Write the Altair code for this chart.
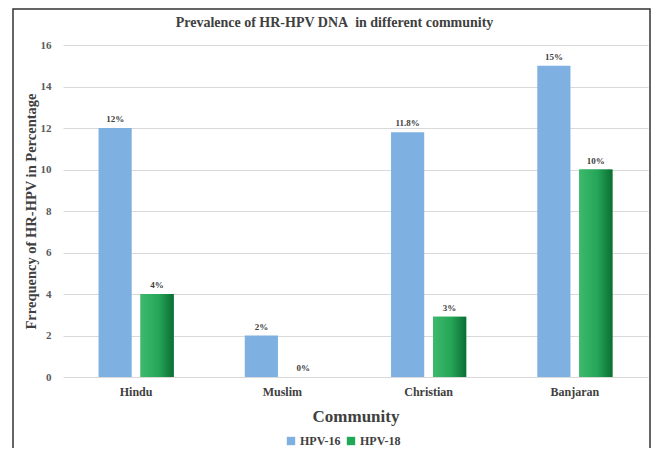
import altair as alt
import pandas as pd

communities = ["Hindu", "Muslim", "Christian", "Banjaran"]
hpv16 = [12, 2, 11.8, 15]
hpv18 = [4, 0, 2.9, 10]
labels16 = ["12%", "2%", "11.8%", "15%"]
labels18 = ["4%", "0%", "3%", "10%"]
series = ["HPV-16", "HPV-18"]

rows = []
for i, c in enumerate(communities):
    rows.append({"Community": c, "Type": "HPV-16", "Value": hpv16[i], "Label": labels16[i]})
    rows.append({"Community": c, "Type": "HPV-18", "Value": hpv18[i], "Label": labels18[i]})
df = pd.DataFrame(rows)

FONT = "Liberation Serif"
W, H = 585, 332

x_enc = alt.X("Community:N", sort=communities,
              scale=alt.Scale(paddingInner=0.486, paddingOuter=0.243),
              axis=alt.Axis(title="Community", labelAngle=0, ticks=False, domain=False,
                            labelPadding=9, labelFontSize=12, labelFont=FONT,
                            labelFontWeight="bold", labelColor="#404040",
                            titleFont=FONT, titleFontSize=17, titleFontWeight="bold",
                            titleColor="#404040", titlePadding=11))
xo_enc = alt.XOffset("Type:N", sort=series, scale=alt.Scale(paddingInner=0.21))
y_enc = alt.Y("Value:Q", scale=alt.Scale(domain=[0, 16]),
              axis=alt.Axis(title="Frrequency of HR-HPV in Percentage", values=list(range(0, 17, 2)),
                            ticks=False, domain=False, grid=True, gridColor="#D9D9D9",
                            labelPadding=12, labelFontSize=11, labelFont=FONT,
                            labelFontWeight="bold", labelColor="#595959",
                            titleFont=FONT, titleFontSize=14.5, titleFontWeight="bold",
                            titleColor="#404040", titlePadding=2))

bars = alt.Chart(df).mark_bar().encode(
    x=x_enc, xOffset=xo_enc, y=y_enc,
    color=alt.Color("Type:N", sort=series,
                    scale=alt.Scale(domain=series, range=["#7EB1E1", "#1FA855"]),
                    legend=alt.Legend(title=None, orient="none", direction="horizontal",
                                      legendX=222, legendY=390, symbolType="square",
                                      symbolSize=70, symbolStrokeWidth=0,
                                      labelFont=FONT, labelFontSize=12, labelFontWeight="bold",
                                      labelColor="#404040", columnPadding=4, labelOffset=3)),
)

grad = alt.Gradient(gradient="linear",
                    stops=[alt.GradientStop(color="#3DBA6C", offset=0),
                           alt.GradientStop(color="#25A558", offset=0.55),
                           alt.GradientStop(color="#0A6E33", offset=1)],
                    x1=0, x2=1, y1=0, y2=0)

green = alt.Chart(df).transform_filter(alt.datum.Type == "HPV-18").mark_bar(color=grad).encode(
    x=x_enc, xOffset=xo_enc, y=y_enc,
)

text = alt.Chart(df).mark_text(dy=-9, font=FONT, fontSize=9, fontWeight="bold", color="#404040").encode(
    x=x_enc, xOffset=xo_enc, y=y_enc, text="Label:N",
)

frame = alt.Chart(pd.DataFrame({"a": [0]})).mark_rect(
    fill=None, stroke="#333333", strokeWidth=1.5, clip=False
).encode(x=alt.value(-50), x2=alt.value(587), y=alt.value(-36), y2=alt.value(420))

chart = alt.layer(bars, green, text, frame).properties(
    width=W, height=H,
    title=alt.TitleParams("Prevalence of HR-HPV DNA\u00a0 in different community",
                          font=FONT, fontSize=14, fontWeight="bold", color="#404040",
                          anchor="middle", offset=0, dy=22, dx=-21),
    autosize=alt.AutoSizeParams(type="none"),
    padding={"left": 55, "top": 37, "right": 3, "bottom": 71},
).configure_view(stroke=None)

chart.save("out.html", embed_options={"renderer": "svg", "actions": False})
